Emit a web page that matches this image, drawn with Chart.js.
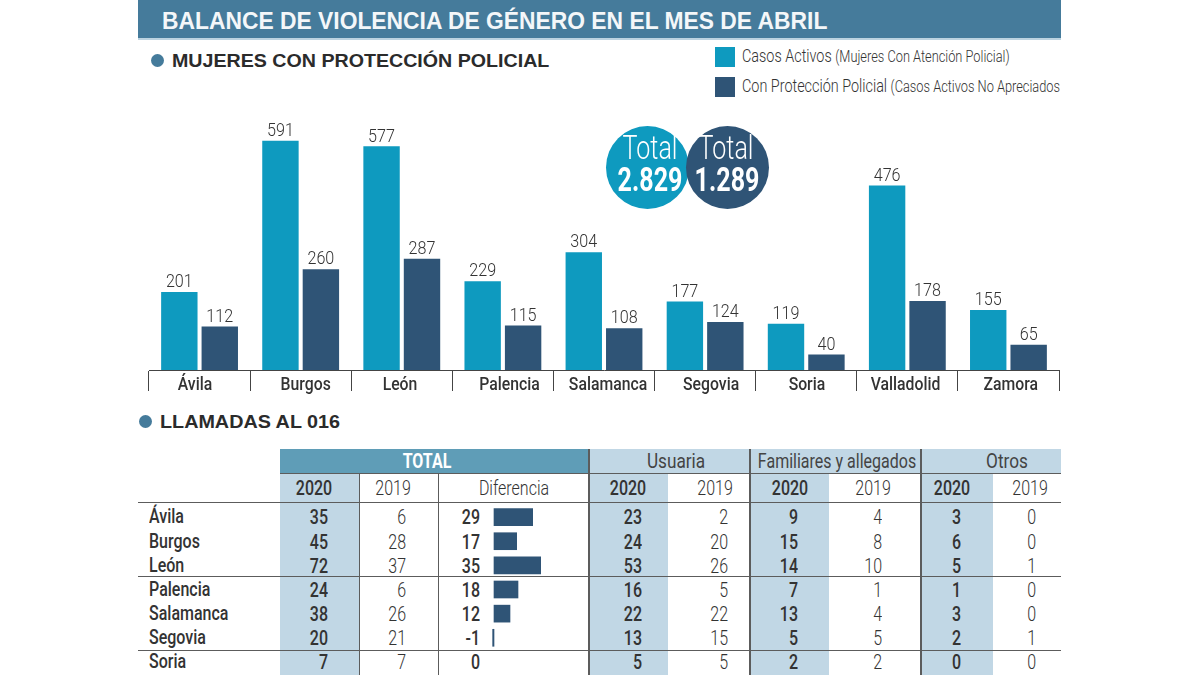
<!DOCTYPE html>
<html lang="es">
<head>
  <meta charset="UTF-8">
  <title>Balance de violencia de género en el mes de abril</title>
  <script src="https://cdn.jsdelivr.net/npm/chart.js"></script>
  <style>
    html, body { margin: 0; padding: 0; background: #fff; }
    #page { position: relative; width: 1200px; height: 675px; overflow: hidden; font-family: Roboto, sans-serif; color: #333; }
    #page div, #page canvas { position: absolute; }
    #band { left: 138px; top: 0; width: 923px; height: 38px; background: #457b9b; border-bottom: 2px solid #bcd3e0; }
    #title { left: 162px; top: 8px; font: bold 23px "Liberation Sans", sans-serif; color: #f4f7f9; white-space: nowrap; transform-origin: left top; transform: scaleX(0.993); }
    .dot { width: 13px; height: 13px; border-radius: 50%; background: #457b9b; }
    .section { font: bold 19px "Liberation Sans", sans-serif; color: #2b2b2b; white-space: nowrap; transform-origin: left top; }
    .swatch { width: 20px; height: 20px; left: 715px; }
    .legend { left: 742px; font-size: 18px; font-weight: 300; color: #333; white-space: nowrap; transform-origin: left top; transform: scaleX(0.8); }
    .legend small { font-size: 16px; }
    .circle { width: 83px; height: 83px; top: 126px; border-radius: 50%; }
    .ctext { color: #fff; white-space: nowrap; text-align: center; width: 120px; font-size: 33px; line-height: 36px; transform: scaleX(0.76); }
    .cell { white-space: nowrap; font-size: 20px; line-height: 20px; height: 20px; }
    .fill { background: #c1d7e5; }
    .line { background: #5c5c5c; }
    .b { font-weight: 500; color: #333; }
    .r { font-weight: 300; color: #333; }
  </style>
</head>
<body>
<div id="page">
  <div id="band"></div>
  <div id="title">BALANCE DE VIOLENCIA DE GÉNERO EN EL MES DE ABRIL</div>

  <div class="dot" style="left:151px;top:54px"></div>
  <div class="section" style="left:172px;top:50px;transform:scaleX(1.033)">MUJERES CON PROTECCIÓN POLICIAL</div>
  <div class="swatch" style="top:47px;background:#0e9abf"></div>
  <div class="swatch" style="top:77px;background:#2f5476"></div>
  <div class="legend" style="top:45px">Casos Activos <small>(Mujeres Con Atención Policial)</small></div>
  <div class="legend" style="top:75px">Con Protección Policial <small>(Casos Activos No Apreciados</small></div>

  <canvas id="barsChart" width="912" height="280" style="left:148px;top:118px"></canvas>

  <div class="circle" style="left:606px;background:#0e9abf"></div>
  <div class="circle" style="left:686px;background:#2f5476"></div>
  <div class="ctext" style="left:590px;top:130px;font-weight:300">Total</div>
  <div class="ctext" style="left:666px;top:130px;font-weight:300">Total</div>
  <div class="ctext" style="left:590px;top:162px;font-weight:700">2.829</div>
  <div class="ctext" style="left:667px;top:162px;font-weight:700">1.289</div>

  <div class="dot" style="left:139px;top:415px"></div>
  <div class="section" style="left:160px;top:411px;transform:scaleX(1.04)">LLAMADAS AL 016</div>

  <div id="table"></div>
  <canvas id="diffChart" width="92" height="169" style="left:486px;top:505px"></canvas>
</div>

<script>
  // grafico de barras
  const provincias = ["Ávila", "Burgos", "León", "Palencia", "Salamanca", "Segovia", "Soria", "Valladolid", "Zamora"];
  const casosActivos = [201, 591, 577, 229, 304, 177, 119, 476, 155];
  const conProteccion = [112, 260, 287, 115, 108, 124, 40, 178, 65];

  // tabla de llamadas (solo las filas que se ven)
  const filas = ["Ávila", "Burgos", "León", "Palencia", "Salamanca", "Segovia", "Soria"];
  const total2020 = [35, 45, 72, 24, 38, 20, 7];
  const total2019 = [6, 28, 37, 6, 26, 21, 7];
  const diferencia = [29, 17, 35, 18, 12, -1, 0];
  const usuaria2020 = [23, 24, 53, 16, 22, 13, 5];
  const usuaria2019 = [2, 20, 26, 5, 22, 15, 5];
  const familiares2020 = [9, 15, 14, 7, 13, 5, 2];
  const familiares2019 = [4, 8, 10, 1, 4, 5, 2];
  const otros2020 = [3, 6, 5, 1, 3, 2, 0];
  const otros2019 = [0, 0, 1, 0, 0, 1, 0];

  const TEAL = "#0e9abf";
  const NAVY = "#2f5476";
  // los rotulos del eje no van centrados del todo en el original
  const labelShift = [-4.6, 5, -1.8, 6.7, 4, 6, 0.7, -1.8, 2.4];

  function narrowText(ctx, str, x, y, k) {
    ctx.save();
    ctx.translate(x, y);
    ctx.scale(k, 1);
    ctx.fillText(str, 0, 0);
    ctx.restore();
  }

  const valueLabels = {
    id: "valueLabels",
    afterDatasetsDraw(chart) {
      const ctx = chart.ctx;
      ctx.save();
      ctx.font = "300 19px Roboto";
      ctx.fillStyle = "#333";
      ctx.textAlign = "center";
      ctx.textBaseline = "bottom";
      chart.data.datasets.forEach((ds, i) => {
        chart.getDatasetMeta(i).data.forEach((bar, j) => {
          narrowText(ctx, ds.data[j], bar.x, bar.y, 0.85);
        });
      });
      ctx.restore();
    }
  };

  const axisLabels = {
    id: "axisLabels",
    afterDraw(chart) {
      const ctx = chart.ctx;
      const xs = chart.scales.x;
      ctx.save();
      ctx.font = "500 19px Roboto";
      ctx.fillStyle = "#333";
      ctx.textAlign = "center";
      ctx.textBaseline = "middle";
      xs.ticks.forEach((t, i) => {
        narrowText(ctx, xs.getLabelForValue(t.value), xs.getPixelForTick(i) + labelShift[i], xs.top + 15.5, 0.83);
      });
      ctx.restore();
    }
  };

  function startCharts() {
    new Chart(document.getElementById("barsChart"), {
      type: "bar",
      data: {
        labels: provincias,
        datasets: [
          { label: "Casos Activos", data: casosActivos, backgroundColor: TEAL },
          { label: "Con Protección Policial", data: conProteccion, backgroundColor: NAVY }
        ]
      },
      options: {
        responsive: false,
        animation: false,
        layout: { padding: { left: 1, right: 1 } },
        plugins: { legend: { display: false }, tooltip: { enabled: false } },
        datasets: { bar: { categoryPercentage: 0.8, barPercentage: 0.9 } },
        scales: {
          x: {
            offset: true,
            afterFit(scale) { scale.height = 28; },
            border: { color: "#444", width: 1 },
            grid: { offset: true, drawOnChartArea: false, tickLength: 21, tickColor: "#444" },
            ticks: { display: false, autoSkip: false }
          },
          y: { display: false, min: 0, max: 650 }
        }
      },
      plugins: [valueLabels, axisLabels]
    });

    new Chart(document.getElementById("diffChart"), {
      type: "bar",
      data: {
        labels: filas,
        datasets: [{
          data: diferencia,
          backgroundColor: c => (c.raw === 0 ? "rgba(0,0,0,0)" : NAVY),
          barThickness: 17
        }]
      },
      options: {
        indexAxis: "y",
        responsive: false,
        animation: false,
        plugins: { legend: { display: false }, tooltip: { enabled: false } },
        scales: {
          x: { display: false, min: -6, max: 63 },
          y: { display: false }
        }
      }
    });
  }

  // tabla a mano con divs
  const table = document.getElementById("table");
  function box(x0, x1, y0, y1, cls, color) {
    const d = document.createElement("div");
    d.className = cls;
    d.style.cssText = `left:${x0}px;top:${y0}px;width:${x1 - x0}px;height:${y1 - y0}px;` + (color ? `background:${color}` : "");
    table.appendChild(d);
  }
  function text(str, x, cy, align, cls, k, extra) {
    const d = document.createElement("div");
    d.className = "cell " + cls;
    d.textContent = str;
    const w = 200;
    const left = align === "right" ? x - w : align === "center" ? x - w / 2 : x;
    d.style.cssText = `left:${left}px;top:${cy - 10}px;width:${w}px;text-align:${align};transform-origin:${align} center;transform:scaleX(${k});` + (extra || "");
    table.appendChild(d);
  }

  // fondos
  box(280, 589, 449, 473, "", "#5f9db7");
  box(589, 1061, 449, 473, "fill");
  box(280, 359, 473, 675, "fill");
  box(589, 668, 473, 675, "fill");
  box(750, 829, 473, 675, "fill");
  box(921, 993, 473, 675, "fill");

  // lineas
  [473, 502, 576, 650].forEach(y => {
    const x0 = y === 473 ? 280 : 138;
    box(x0, 1061, y - 0.5, y + 0.5, "line");
  });
  [359, 438.5].forEach(x => box(x - 0.5, x + 0.5, 473, 675, "line"));
  [589, 750, 921].forEach(x => box(x - 0.75, x + 0.75, 449, 675, "line"));

  // cabeceras
  text("TOTAL", 427, 461, "center", "b", 0.8, "color:#fff;font-weight:700");
  text("Usuaria", 676, 461, "center", "r", 0.86, "font-weight:400;color:#444");
  text("Familiares y allegados", 837, 461, "center", "r", 0.8, "font-weight:400;color:#444");
  text("Otros", 1006.5, 461, "center", "r", 0.86, "font-weight:400;color:#444");
  const years = [
    ["2020", 314, "b"], ["2019", 393, "r"], ["Diferencia", 514, "r"],
    ["2020", 628, "b"], ["2019", 715, "r"],
    ["2020", 790, "b"], ["2019", 873, "r"],
    ["2020", 951.5, "b"], ["2019", 1030, "r"]
  ];
  years.forEach(([s, x, c]) => text(s, x, 488, "center", c, 0.8));

  // filas
  const rowY = [517, 541.5, 565.5, 590, 613.5, 638, 662];
  const cols = [
    [total2020, 328, "b"], [total2019, 406, "r"], [diferencia, 480, "b"],
    [usuaria2020, 642, "b"], [usuaria2019, 728, "r"],
    [familiares2020, 798, "b"], [familiares2019, 882, "r"],
    [otros2020, 961, "b"], [otros2019, 1036, "r"]
  ];
  filas.forEach((f, i) => {
    text(f, 149, rowY[i] - 1, "left", "b", 0.8);
    cols.forEach(([arr, x, c]) => text(String(arr[i]), x, rowY[i], "right", c, 0.8));
  });

  startCharts();
</script>
</body>
</html>
